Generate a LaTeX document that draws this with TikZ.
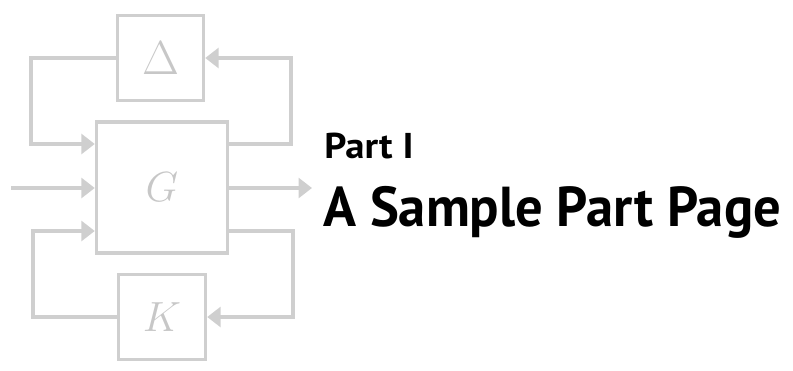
\documentclass[tikz,border=0pt]{standalone}
\usepackage{fix-cm}
\usepackage{fontspec}
\newfontfamily\partfont[FakeStretch=1.08]{PT Sans}
\newfontfamily\titlefont[FakeStretch=0.97]{PT Sans}
\usetikzlibrary{arrows.meta}
\colorlet{loopgray}{black!19}

\begin{document}
\begin{tikzpicture}[x=0.025cm, y=-0.025cm,
		block/.style={draw=loopgray, line width=2.4pt, inner sep=0pt, text=black!22},
		wire/.style={draw=loopgray, line width=2.4pt, -{Triangle[length=9.5pt, width=14pt]}},
		parttext/.style={anchor=base west, inner sep=0pt}
	]
		\useasboundingbox (0,0) rectangle (793,370);
		% the three blocks
		\node[block, minimum width=2.15cm, minimum height=2.125cm, font=\fontsize{34}{36}\selectfont] (delta) at (160.5,58) {
			$\Delta$
		};
		\node[block, minimum size=3.275cm, font=\fontsize{30}{32}\selectfont] (plant) at (162,187.5) {
			$G$
		};
		\node[block, minimum width=2.175cm, minimum height=2.125cm, font=\fontsize{30}{32}\selectfont] (ctrl) at (162,317) {
			$K$
		};
		% corners of the loops and free ends
		\coordinate (lt) at (31,144);
		\coordinate (rt) at (291,144);
		\coordinate (lb) at (33,231);
		\coordinate (rb) at (293,231);
		\coordinate (in) at (11,188);
		\coordinate (out) at (312,188);
		\draw[wire] (delta.west) -| (lt) -- (plant.west |- lt);
		\draw[wire] (plant.east |- rt) -- (rt) |- (delta.east);
		\draw[wire] (ctrl.west) -| (lb) -- (plant.west |- lb);
		\draw[wire] (plant.east |- rb) -- (rb) |- (ctrl.east);
		\draw[wire] (in) -- (plant.west |- in);
		\draw[wire] (plant.east |- out) -- (out);
		% heading
		\node[parttext, font=\partfont\bfseries\fontsize{25.5}{28}\selectfont] (partnum) at (324,158) {Part I};
		\node[parttext, font=\titlefont\bfseries\fontsize{40}{46}\selectfont] (parttitle) at (323,226) {A Sample Part Page};
\end{tikzpicture}
\end{document}
